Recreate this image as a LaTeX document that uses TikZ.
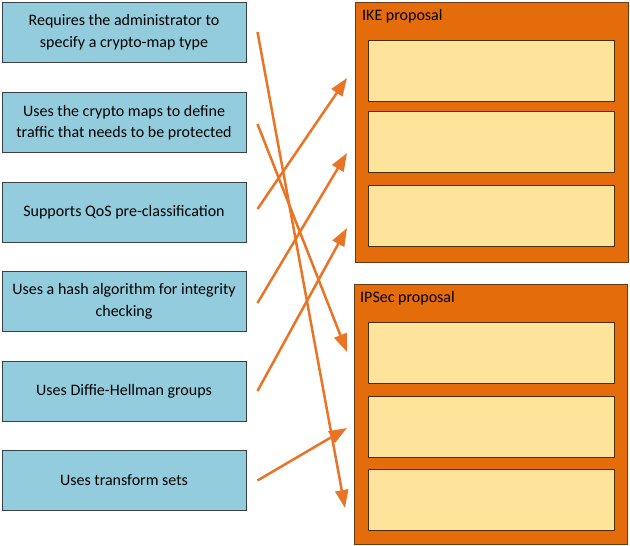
\documentclass[tikz,border=0pt]{standalone}
\usepackage{fontspec}
\setmainfont{Carlito}
\usetikzlibrary{arrows.meta,positioning}

\definecolor{aquabox}{HTML}{93CDDD}
\definecolor{edgegray}{HTML}{3A4048}
\definecolor{groupfill}{HTML}{E46C0A}
\definecolor{groupedge}{HTML}{6B3A12}
\definecolor{slotfill}{HTML}{FEE49A}
\definecolor{slotedge}{HTML}{4A2E10}
\definecolor{linkorange}{HTML}{E97425}

\begin{document}
\begin{tikzpicture}[x=1pt,y=-1pt,
    item/.style={draw=edgegray,fill=aquabox,line width=1pt,minimum width=244pt,minimum height=60pt,
      align=center,inner sep=0pt,font=\fontsize{16}{21.5}\selectfont},
    group/.style={draw=groupedge,fill=groupfill,line width=1pt,minimum width=273pt,minimum height=260pt},
    slot/.style={draw=slotedge,fill=slotfill,line width=1pt,minimum width=246pt,minimum height=61pt},
    grouplabel/.style={anchor=west,inner sep=0pt,font=\fontsize{16}{18}\selectfont},
    link/.style={draw=linkorange,line width=2.5pt,-{Triangle[length=18pt,width=13pt]}}]
      \useasboundingbox (0,0) rectangle (630,546);

      \node[item] (cmtype) at (124,32) {Requires the administrator to\\specify a crypto-map type};
      \node[item] (cmaps) at (124,122.5) {Uses the crypto maps to define\\traffic that needs to be protected};
      \node[item] (qos) at (124,212) {Supports QoS pre-classification};
      \node[item] (hash) at (124,301.5) {Uses a hash algorithm for integrity\\checking};
      \node[item] (dh) at (124,391) {Uses Diffie-Hellman groups};
      \node[item] (tset) at (124,480.5) {Uses transform sets};

      \node[group] (ike) at (491.5,132) {};
      \node[group] (ipsec) at (491,414) {};
      \node[grouplabel] (ikename) at (362,16) {IKE proposal};
      \node[grouplabel] (ipsecname) at (360,298) {IPSec proposal};

      \node[slot] (ike1) at (491,70.5) {};
      \node[slot] (ike2) at (491,141.5) {};
      \node[slot] (ike3) at (491,216) {};
      \node[slot] (ipsec1) at (491,353) {};
      \node[slot] (ipsec2) at (491,427) {};
      \node[slot] (ipsec3) at (491,500) {};

      \coordinate (inA) at (345,508);
      \coordinate (inB) at (347,352);
      \coordinate (inC) at (347,78);
      \coordinate (inD) at (347,153);
      \coordinate (inE) at (347,228);
      \coordinate (inF) at (347,428);

      \draw[link] ([xshift=11pt]cmtype.east) -- (inA);
      \draw[link] ([xshift=11pt,yshift=-1.5pt]cmaps.east) -- (inB);
      \draw[link] ([xshift=11pt,yshift=3pt]qos.east) -- (inC);
      \draw[link] ([xshift=11pt,yshift=-1.5pt]hash.east) -- (inD);
      \draw[link] ([xshift=11pt]dh.east) -- (inE);
      \draw[link] ([xshift=11pt]tset.east) -- (inF);
    \end{tikzpicture}
\end{document}
